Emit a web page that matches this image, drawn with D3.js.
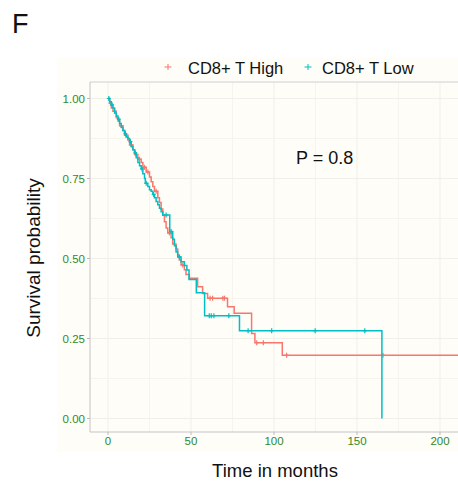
<!DOCTYPE html>
<html>
<head>
<meta charset="utf-8">
<script src="https://cdn.jsdelivr.net/npm/d3@7"></script>
<style>
  body { margin: 0; background: #fff; }
  text { font-family: "Liberation Sans", Arial, sans-serif; }
</style>
</head>
<body>
<div id="chart"></div>
<script>
    var width = 458,
        height = 483;

// survival steps (time in months, survival after the drop)
    var highTimes = [0, 1, 2, 3, 5, 6, 7, 9, 10, 12, 13, 15, 16, 18, 20, 21, 23, 25, 26, 27, 28, 30, 31, 32, 33, 34, 35, 36, 38, 39, 41, 42, 43, 44, 46, 47, 49, 54, 57, 60, 72, 76, 86.5, 88.5, 105];
    var highSurv  = [1, 0.985, 0.97, 0.96, 0.94, 0.93, 0.915, 0.9, 0.885, 0.87, 0.855, 0.84, 0.825, 0.81, 0.8, 0.785, 0.77, 0.755, 0.74, 0.725, 0.71, 0.69, 0.675, 0.655, 0.635, 0.615, 0.595, 0.58, 0.565, 0.545, 0.53, 0.51, 0.495, 0.48, 0.465, 0.45, 0.438, 0.412, 0.391, 0.376, 0.349, 0.329, 0.266, 0.237, 0.198];
    var highCensor = [1.5, 4, 8, 11, 14, 17, 19, 22, 24, 29, 37, 45, 61.5, 63, 69.2, 70.2, 89.6, 93.6, 107.6, 165.7];

    var lowTimes = [0, 1, 2, 3, 4, 5, 6, 7, 8, 9, 10, 11, 12, 13, 14, 15, 16, 17, 18, 19, 20, 21, 22, 22.5, 24, 25, 26, 27, 28, 29, 30, 31, 32, 33, 37.2, 39, 40, 41, 42, 44, 46, 47.5, 48.8, 53.2, 58.2, 79.2, 165];
    var lowSurv  = [1, 0.99, 0.98, 0.97, 0.955, 0.945, 0.935, 0.922, 0.91, 0.9, 0.89, 0.88, 0.875, 0.865, 0.85, 0.84, 0.83, 0.815, 0.8, 0.79, 0.78, 0.765, 0.75, 0.735, 0.725, 0.715, 0.71, 0.7, 0.69, 0.678, 0.668, 0.657, 0.646, 0.636, 0.584, 0.56, 0.54, 0.52, 0.505, 0.49, 0.478, 0.464, 0.434, 0.393, 0.321, 0.274, 0];
    var lowCensor = [0.5, 2.5, 6.5, 10.5, 13.5, 16.5, 20.5, 23, 27.5, 35, 38, 43, 61, 62.2, 63.8, 72.8, 84.4, 98.6, 124.8, 154.7];

    var groupNames = ["CD8+ T High", "CD8+ T Low"];
    var groupColors = ["#F8766D", "#00BFC4"];

    var xTicks = [0, 50, 100, 150, 200];
    var yTicks = [0, 0.25, 0.5, 0.75, 1];

    var svg = d3.select("#chart").append("svg")
        .attr("width", width)
        .attr("height", height);

    // cream plot background
    svg.append("rect")
        .attr("x", 57).attr("y", 58)
        .attr("width", width - 57).attr("height", 394)
        .attr("fill", "#fefdf8");

    var panel = {left: 90, top: 82, right: 458, bottom: 432};

    var x = d3.scaleLinear().domain([0, 200]).range([108, 440]);
    var y = d3.scaleLinear().domain([0, 1]).range([418.5, 98.5]);

    // grid lines
    var xGrid = d3.range(0, 225, 25);
    var yGrid = d3.range(0, 1.01, 0.125);
    svg.selectAll(".vgrid").data(xGrid).enter().append("line")
        .attr("x1", function (d) { return x(d); }).attr("x2", function (d) { return x(d); })
        .attr("y1", panel.top).attr("y2", panel.bottom)
        .attr("stroke", function (d) { return d % 50 === 0 ? "#f0efe8" : "#f5f4ee"; })
        .attr("stroke-width", 1);
    svg.selectAll(".hgrid").data(yGrid).enter().append("line")
        .attr("x1", panel.left).attr("x2", panel.right)
        .attr("y1", function (d) { return y(d); }).attr("y2", function (d) { return y(d); })
        .attr("stroke", function (d) { return (d * 4) % 1 === 0 ? "#f0efe8" : "#f5f4ee"; })
        .attr("stroke-width", 1);

    // panel border (top, left, bottom)
    svg.append("line").attr("x1", panel.left).attr("x2", panel.right)
        .attr("y1", panel.top).attr("y2", panel.top).attr("stroke", "#cfcfcf");
    svg.append("line").attr("x1", panel.left).attr("x2", panel.left)
        .attr("y1", panel.top).attr("y2", panel.bottom).attr("stroke", "#c4c4c4");
    svg.append("line").attr("x1", panel.left).attr("x2", panel.right)
        .attr("y1", panel.bottom).attr("y2", panel.bottom).attr("stroke", "#c4c4c4");

    // ticks + labels
    var tickColor = "#2f8a2a";
    svg.selectAll(".xtick").data(xTicks).enter().append("line")
        .attr("x1", function (d) { return x(d); }).attr("x2", function (d) { return x(d); })
        .attr("y1", panel.bottom).attr("y2", panel.bottom + 3).attr("stroke", "#bbb");
    svg.selectAll(".xlab").data(xTicks).enter().append("text")
        .attr("x", function (d) { return x(d); })
        .attr("y", 445)
        .attr("text-anchor", "middle")
        .style("font-size", "11.5px")
        .attr("fill", tickColor)
        .text(function (d) { return d; });
    svg.selectAll(".ytick").data(yTicks).enter().append("line")
        .attr("x1", panel.left - 3).attr("x2", panel.left)
        .attr("y1", function (d) { return y(d); }).attr("y2", function (d) { return y(d); })
        .attr("stroke", "#bbb");
    svg.selectAll(".ylab").data(yTicks).enter().append("text")
        .attr("x", 85)
        .attr("y", function (d) { return y(d) + 4; })
        .attr("text-anchor", "end")
        .style("font-size", "11.5px")
        .attr("fill", tickColor)
        .text(function (d) { return d.toFixed(2); });

    // curves
    function stepPoints(times, surv, end) {
        var pts = times.map(function (t, i) { return [t, surv[i]]; });
        if (end !== undefined) pts.push([end, surv[surv.length - 1]]);
        return pts;
    }
    function survAt(times, surv, t) {
        var s = surv[0];
        for (var i = 0; i < times.length; i++) { if (times[i] <= t) s = surv[i]; }
        return s;
    }

    var line = d3.line()
        .x(function (d) { return x(d[0]); })
        .y(function (d) { return y(d[1]); })
        .curve(d3.curveStepAfter);

    var groups = [
        {times: highTimes, surv: highSurv, censor: highCensor, end: 212, color: groupColors[0]},
        {times: lowTimes, surv: lowSurv, censor: lowCensor, end: undefined, color: groupColors[1]}
    ];

    groups.forEach(function (g) {
        svg.append("path")
            .datum(stepPoints(g.times, g.surv, g.end))
            .attr("fill", "none")
            .attr("stroke", g.color)
            .attr("stroke-width", 1.5)
            .attr("d", line);

        var marks = svg.append("g");
        g.censor.forEach(function (t) {
            var cx = x(t), cy = y(survAt(g.times, g.surv, t));
            marks.append("line").attr("x1", cx).attr("x2", cx)
                .attr("y1", cy - 2.5).attr("y2", cy + 2.5)
                .attr("stroke", g.color).attr("stroke-width", 1.2);
            marks.append("line").attr("x1", cx - 2).attr("x2", cx + 2)
                .attr("y1", cy).attr("y2", cy)
                .attr("stroke", g.color).attr("stroke-width", 1);
        });
    });

    // legend
    var legendX = [168, 308];
    groupNames.forEach(function (name, i) {
        var lx = legendX[i];
        svg.append("line").attr("x1", lx - 3.5).attr("x2", lx + 3.5)
            .attr("y1", 67).attr("y2", 67).attr("stroke", groupColors[i]).attr("stroke-width", 1);
        svg.append("line").attr("x1", lx).attr("x2", lx)
            .attr("y1", 64).attr("y2", 70).attr("stroke", groupColors[i]).attr("stroke-width", 1);
        svg.append("text")
            .attr("x", lx + 20 - (i === 1 ? 6 : 0))
            .attr("y", 74)
            .style("font-size", "16.5px")
            .attr("fill", "#111")
            .text(name);
    });

    // annotations
    svg.append("text").attr("x", 296).attr("y", 164)
        .style("font-size", "18px").attr("fill", "#111").text("P = 0.8");

    svg.append("text").attr("x", 12).attr("y", 33)
        .style("font-size", "27px").attr("fill", "#111").text("F");

    svg.append("text")
        .attr("x", 275).attr("y", 477)
        .attr("text-anchor", "middle")
        .style("font-size", "18.5px").attr("fill", "#111")
        .text("Time in months");

    svg.append("text")
        .attr("transform", "translate(40,258) rotate(-90)")
        .attr("text-anchor", "middle")
        .style("font-size", "19px").attr("fill", "#111")
        .text("Survival probability");
</script>
</body>
</html>
